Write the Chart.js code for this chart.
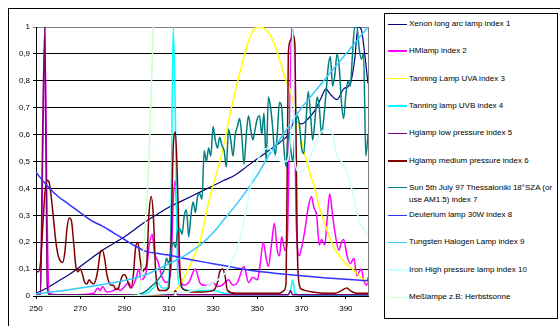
<!DOCTYPE html>
<html>
<head>
<meta charset="utf-8">
<script src="https://cdn.jsdelivr.net/npm/chart.js@4.4.1/dist/chart.umd.min.js"></script>
<style>
  html, body { margin: 0; padding: 0; background: #fff; }
  #wrap { position: relative; width: 560px; height: 326px; overflow: hidden; font-family: "Liberation Sans", Arial, sans-serif; }
  #frame { position: absolute; left: 8px; top: 8px; width: 600px; height: 400px; border: 1px solid #000; }
  #legend { position: absolute; left: 384px; top: 13px; width: 172px; height: 304px; border: 1px solid #000; background: #fff; }
  .swatch { position: absolute; left: 3px; width: 19px; }
  .label { position: absolute; left: 24px; width: 147px; font-size: 8px; line-height: 12px; color: #000; }
  canvas { position: absolute; left: 0; top: 0; }
</style>
</head>
<body>
<div id="wrap">
  <div id="frame"></div>
  <canvas id="spectra" width="560" height="326"></canvas>
  <div id="legend"></div>
</div>
<script>
// tick labels
const xTicks = [250, 270, 290, 310, 330, 350, 370, 390];
const yTicks = ["0", "0,1", "0,2", "0,3", "0,4", "0,5", "0,6", "0,7", "0,8", "0,9", "1"];

const names = [
  "Xenon long arc lamp index 1",
  "HMlamp index 2",
  "Tanning Lamp UVA index 3",
  "Tanning lamp UVB index 4",
  "Hglamp low  pressure index 5",
  "Hglamp medium pressure index 6",
  "Sun 5th July 97 Thessaloniki 18°SZA (or use AM1.5) index 7",
  "Deuterium lamp 30W index 8",
  "Tungsten Halogen Lamp index 9",
  "Iron High pressure lamp index 10",
  "Meßlampe z.B: Herbstsonne",
];

// [wavelength nm, relative intensity]
const xenon = [
  [250, 0.01], [255, 0.03], [260, 0.055], [265, 0.08], [270, 0.11], [275, 0.14],
  [280, 0.17], [285, 0.195], [290, 0.22], [295, 0.25], [300, 0.28], [305, 0.305],
  [310, 0.33], [315, 0.35], [320, 0.37], [325, 0.39], [330, 0.41], [335, 0.43],
  [340, 0.45], [345, 0.48], [350, 0.51], [355, 0.54], [360, 0.57], [364, 0.6],
  [367, 0.65], [370, 0.64], [373, 0.66], [376, 0.69], [379, 0.74], [381, 0.77],
  [383, 0.75], [386, 0.73], [389, 0.77], [392, 0.79], [394, 0.88], [395.5, 1.0],
  [397, 0.99], [398.5, 0.9], [400, 0.79],
];
const hmLamp = [
  [250, 0.0], [252, 0.0], [253, 0.5], [254, 0.96], [255, 0.3], [256, 0.01],
  [260, 0.005], [270, 0.005], [276, 0.01], [278, 0.03], [279, 0.02], [280, 0.035],
  [282, 0.015], [285, 0.02], [287, 0.03], [288, 0.02], [290, 0.035], [292, 0.05],
  [293, 0.03], [295, 0.06], [296.5, 0.1], [297.5, 0.06], [299, 0.07], [300, 0.1],
  [301, 0.18], [302.5, 0.23], [303.5, 0.16], [305, 0.13], [307, 0.07], [309, 0.05],
  [311, 0.1], [312, 0.35], [313, 0.43], [314, 0.2], [315, 0.08], [317, 0.04],
  [319, 0.05], [322, 0.1], [324, 0.05], [326, 0.04], [328, 0.04], [330, 0.05],
  [332, 0.035], [334, 0.04], [337, 0.06], [339, 0.04], [341, 0.05], [344, 0.11],
  [346, 0.05], [348, 0.07], [350, 0.06], [351, 0.1], [352.7, 0.2], [354, 0.14],
  [355, 0.11], [356.5, 0.2], [357.7, 0.27], [359, 0.17], [360, 0.15], [361, 0.22],
  [362.5, 0.17], [363.5, 0.2], [364.5, 0.6], [365.5, 1.0], [366.5, 0.9], [367.5, 0.3],
  [369, 0.15], [370, 0.18], [371.4, 0.24], [373, 0.33], [374.5, 0.37], [375.5, 0.33],
  [376.8, 0.3], [378, 0.19], [379, 0.21], [380.5, 0.19], [381.5, 0.28], [382.7, 0.38],
  [384, 0.3], [385, 0.24], [386.8, 0.17], [388, 0.2], [389, 0.21], [390.5, 0.15],
  [392, 0.12], [393.6, 0.14], [395, 0.075], [396, 0.09], [397, 0.1], [398, 0.06],
  [399.5, 0.04], [400, 0.07],
];
const uva = [
  [250, 0.0], [300, 0.0], [308, 0.005], [312, 0.015], [314, 0.03], [317, 0.07],
  [320, 0.12], [322, 0.16], [324, 0.2], [326, 0.27], [328, 0.35], [331, 0.44],
  [334, 0.53], [337, 0.65], [340, 0.76], [343, 0.86], [345, 0.92], [347, 0.97],
  [349, 0.995], [351, 1.0], [353, 0.995], [355, 0.98], [357, 0.95], [360, 0.88],
  [363, 0.8], [365, 0.76], [368, 0.66], [371, 0.54], [374, 0.45], [376, 0.4],
  [378, 0.33], [380, 0.28], [383, 0.21], [386, 0.16], [390, 0.12], [393, 0.1],
  [396, 0.075], [400, 0.05],
];
const uvb = [
  [250, 0.0], [295, 0.002], [300, 0.01], [303, 0.03], [305, 0.05], [307, 0.03],
  [309, 0.03], [310, 0.06], [311, 0.3], [312, 1.0], [313, 0.65], [314, 0.08],
  [315, 0.04], [317, 0.025], [320, 0.02], [330, 0.02], [335, 0.01], [340, 0.005],
  [364, 0.005], [365, 0.02], [366, 0.06], [367, 0.01], [370, 0.003], [400, 0.002],
];
const hgLow = [
  [250, 0.005], [252, 0.005], [253, 0.6], [254, 1.0], [255, 0.05], [256, 0.005],
  [312, 0.005], [313, 0.02], [314, 0.005], [364, 0.005], [365, 0.02], [366, 0.005],
  [400, 0.005],
];
const hgMedium = [
  [250, 0.09], [251, 0.09], [252, 0.12], [253, 0.25], [254, 0.38], [255, 0.43],
  [256, 0.42], [257, 0.36], [258, 0.28], [259, 0.2], [260, 0.15], [261, 0.13],
  [262, 0.125], [263, 0.16], [264, 0.25], [265, 0.29], [266, 0.28], [267, 0.2],
  [268, 0.11], [269, 0.09], [270, 0.1], [271, 0.08], [272, 0.05], [273, 0.045],
  [274, 0.06], [275, 0.05], [276, 0.045], [277, 0.06], [278, 0.1], [279, 0.16],
  [280, 0.17], [281, 0.14], [282, 0.08], [283, 0.05], [284, 0.04], [285, 0.04],
  [286, 0.025], [287, 0.025], [288, 0.05], [289, 0.075], [290, 0.08], [291, 0.065],
  [292, 0.04], [293, 0.03], [294, 0.08], [295, 0.18], [296, 0.2], [297, 0.14],
  [298, 0.09], [299, 0.1], [300, 0.12], [301, 0.3], [302, 0.37], [303, 0.3],
  [304, 0.1], [305, 0.03], [306, 0.02], [308, 0.02], [310, 0.03], [311, 0.2],
  [312, 0.55], [313, 0.61], [314, 0.4], [315, 0.1], [316, 0.03], [318, 0.02],
  [320, 0.015], [325, 0.015], [330, 0.02], [332, 0.05], [333, 0.09], [334.4, 0.1],
  [335.5, 0.07], [336.5, 0.02], [340, 0.01], [350, 0.01], [360, 0.01], [362, 0.02],
  [363, 0.05], [364, 0.9], [365, 0.95], [366, 0.97], [367, 0.93], [368, 0.2],
  [369, 0.04], [370, 0.025], [372, 0.02], [375, 0.015], [380, 0.01], [385, 0.01],
  [388, 0.02], [390.5, 0.03], [392, 0.02], [395, 0.01], [400, 0.01],
];
const sun = [
  [250, 0.0], [290, 0.0], [295, 0.003], [298, 0.01], [300, 0.02], [302, 0.035],
  [304, 0.05], [306, 0.07], [308, 0.1], [309, 0.14], [310, 0.12], [311, 0.17],
  [312, 0.2], [313, 0.18], [314, 0.24], [315, 0.25], [316, 0.23], [317, 0.3],
  [318, 0.32], [319, 0.22], [320, 0.3], [321, 0.35], [322, 0.31], [323, 0.37],
  [324, 0.38], [325, 0.36], [326, 0.54], [327, 0.5], [328, 0.55], [329, 0.52],
  [330, 0.63], [331, 0.58], [332, 0.55], [333, 0.59], [334, 0.56], [335, 0.54],
  [336, 0.48], [337, 0.62], [338, 0.58], [339, 0.52], [340, 0.6], [341, 0.63],
  [342, 0.66], [343, 0.59], [344, 0.49], [345, 0.6], [346, 0.67], [347, 0.62],
  [348, 0.58], [349, 0.62], [350, 0.66], [351, 0.67], [352, 0.6], [353, 0.68],
  [354, 0.5], [355, 0.74], [356, 0.7], [357, 0.62], [358, 0.52], [359, 0.6],
  [360, 0.72], [361, 0.7], [362, 0.55], [363, 0.48], [364, 0.6], [365, 0.55],
  [366, 0.5], [367, 0.6], [368, 0.67], [369, 0.64], [370, 0.55], [371, 0.53],
  [372, 0.65], [373, 0.76], [374, 0.68], [375, 0.58], [376, 0.65], [377, 0.74],
  [378, 0.7], [379, 0.6], [380, 0.66], [381, 0.75], [382, 0.85], [383, 0.89],
  [384, 0.78], [385, 0.82], [386, 0.9], [387, 0.85], [388, 0.72], [389, 0.66],
  [390, 0.75], [391, 0.8], [392, 0.78], [393, 0.9], [394, 1.0], [395, 1.0],
  [396, 0.92], [397, 0.88], [398, 0.9], [399, 0.52], [400, 0.6],
];
const deuterium = [
  [250, 0.46], [255, 0.41], [260, 0.37], [265, 0.34], [270, 0.31], [275, 0.28],
  [280, 0.26], [285, 0.235], [290, 0.21], [295, 0.185], [300, 0.165], [305, 0.158],
  [310, 0.152], [315, 0.143], [320, 0.135], [330, 0.12], [340, 0.105], [350, 0.092],
  [360, 0.083], [370, 0.075], [380, 0.068], [390, 0.062], [400, 0.057],
];
const tungsten = [
  [250, 0.008], [260, 0.018], [270, 0.03], [280, 0.043], [290, 0.058], [300, 0.08],
  [305, 0.1], [310, 0.12], [315, 0.14], [320, 0.165], [325, 0.195], [330, 0.235],
  [335, 0.285], [340, 0.335], [345, 0.39], [350, 0.45], [355, 0.52], [360, 0.58],
  [365, 0.64], [370, 0.7], [375, 0.75], [380, 0.8], [385, 0.85], [390, 0.9],
  [395, 0.95], [400, 1.0],
];
const iron = [
  [250, 0.0], [295, 0.002], [300, 0.005], [310, 0.01], [318, 0.015], [325, 0.03],
  [330, 0.05], [335, 0.08], [339, 0.14], [342, 0.21], [345, 0.32], [348, 0.45],
  [351, 0.52], [355, 0.55], [358, 0.52], [361, 0.5], [363, 0.5], [365, 0.6],
  [366, 1.0], [367, 0.5], [369, 0.46], [372, 0.48], [375, 0.54], [378, 0.6],
  [381, 0.62], [384, 0.6], [386, 0.52], [388, 0.5], [390, 0.47], [392, 0.42],
  [394, 0.35], [396, 0.28], [398, 0.25], [400, 0.23],
];
const messlampe = [
  [250, 0.0], [296, 0.0], [297, 0.03], [298, 0.1], [299, 0.22], [300, 0.35],
  [301, 0.5], [302, 0.75], [303, 1.0], [304, 1.3], [306, 2.0], [400, 2.0],
];

const series = [xenon, hmLamp, uva, uvb, hgLow, hgMedium, sun, deuterium, tungsten, iron, messlampe];

const colors = ["#000080", "#FF00FF", "#FFFF00", "#00FFFF", "#800080", "#800000", "#008080", "#3333FF", "#33CCFF", "#CCFFFF", "#CCFFCC"];
const widths = [1.2, 1.5, 1.5, 1.5, 1.5, 1.5, 1.5, 1.5, 1.5, 1.5, 1.5];
const swatchWidths = [1, 2, 1, 2, 1, 2, 1, 1, 1, 2, 1];

// right and top edge of the plot area in grey
const plotBorder = {
  id: "plotBorder",
  beforeDatasetsDraw(chart) {
    const { ctx, chartArea: a } = chart;
    ctx.save();
    ctx.strokeStyle = "#808080";
    ctx.lineWidth = 1;
    ctx.beginPath();
    ctx.moveTo(Math.round(a.right) + 0.5, a.top);
    ctx.lineTo(Math.round(a.right) + 0.5, a.bottom);
    ctx.stroke();
    ctx.restore();
  },
};

new Chart(document.getElementById("spectra"), {
  type: "line",
  data: {
    datasets: series.map((s, i) => ({
      label: names[i],
      data: s.map(([x, y]) => ({ x, y })),
      borderColor: colors[i],
      borderWidth: widths[i],
      pointRadius: 0,
      cubicInterpolationMode: "monotone",
      tension: 0.4,
      fill: false,
      order: series.length - i,
    })),
  },
  options: {
    responsive: false,
    animation: false,
    devicePixelRatio: 1,
    layout: { padding: { left: 0, top: 27, right: 192, bottom: 0 } },
    plugins: {
      legend: { display: false },
      tooltip: { enabled: false },
    },
    scales: {
      x: {
        type: "linear",
        min: 250,
        max: 400,
        afterBuildTicks: (axis) => {
          axis.ticks = xTicks.map((v) => ({ value: v }));
        },
        afterFit: (scale) => {
          scale.height = 30;
        },
        grid: { drawOnChartArea: false, drawTicks: true, tickLength: 3, color: "#000" },
        border: { color: "#000", width: 1 },
        ticks: {
          autoSkip: false,
          maxRotation: 0,
          padding: 5,
          color: "#000",
          font: { family: "'Liberation Sans', Arial, sans-serif", size: 8 },
        },
      },
      y: {
        min: 0,
        max: 1,
        afterFit: (scale) => {
          scale.width = 36;
        },
        grid: {
          tickLength: 3,
          color: (c) => (c.tick && c.tick.value === 1 ? "#808080" : "#000"),
        },
        border: { color: "#000", width: 1 },
        ticks: {
          stepSize: 0.1,
          padding: 3,
          color: "#000",
          font: { family: "'Liberation Sans', Arial, sans-serif", size: 8 },
          callback: (v, i) => yTicks[i],
        },
      },
    },
  },
  plugins: [plotBorder],
});

// Legend :
const legend = document.getElementById("legend");
names.forEach((name, i) => {
  const cy = 10 + i * 27.3;
  const sw = document.createElement("div");
  sw.className = "swatch";
  sw.style.top = cy - swatchWidths[i] / 2 + "px";
  sw.style.height = swatchWidths[i] + "px";
  sw.style.background = colors[i];
  legend.appendChild(sw);
  const lb = document.createElement("div");
  lb.className = "label";
  lb.style.top = cy - 6 + "px";
  lb.textContent = name;
  legend.appendChild(lb);
});
</script>
</body>
</html>
